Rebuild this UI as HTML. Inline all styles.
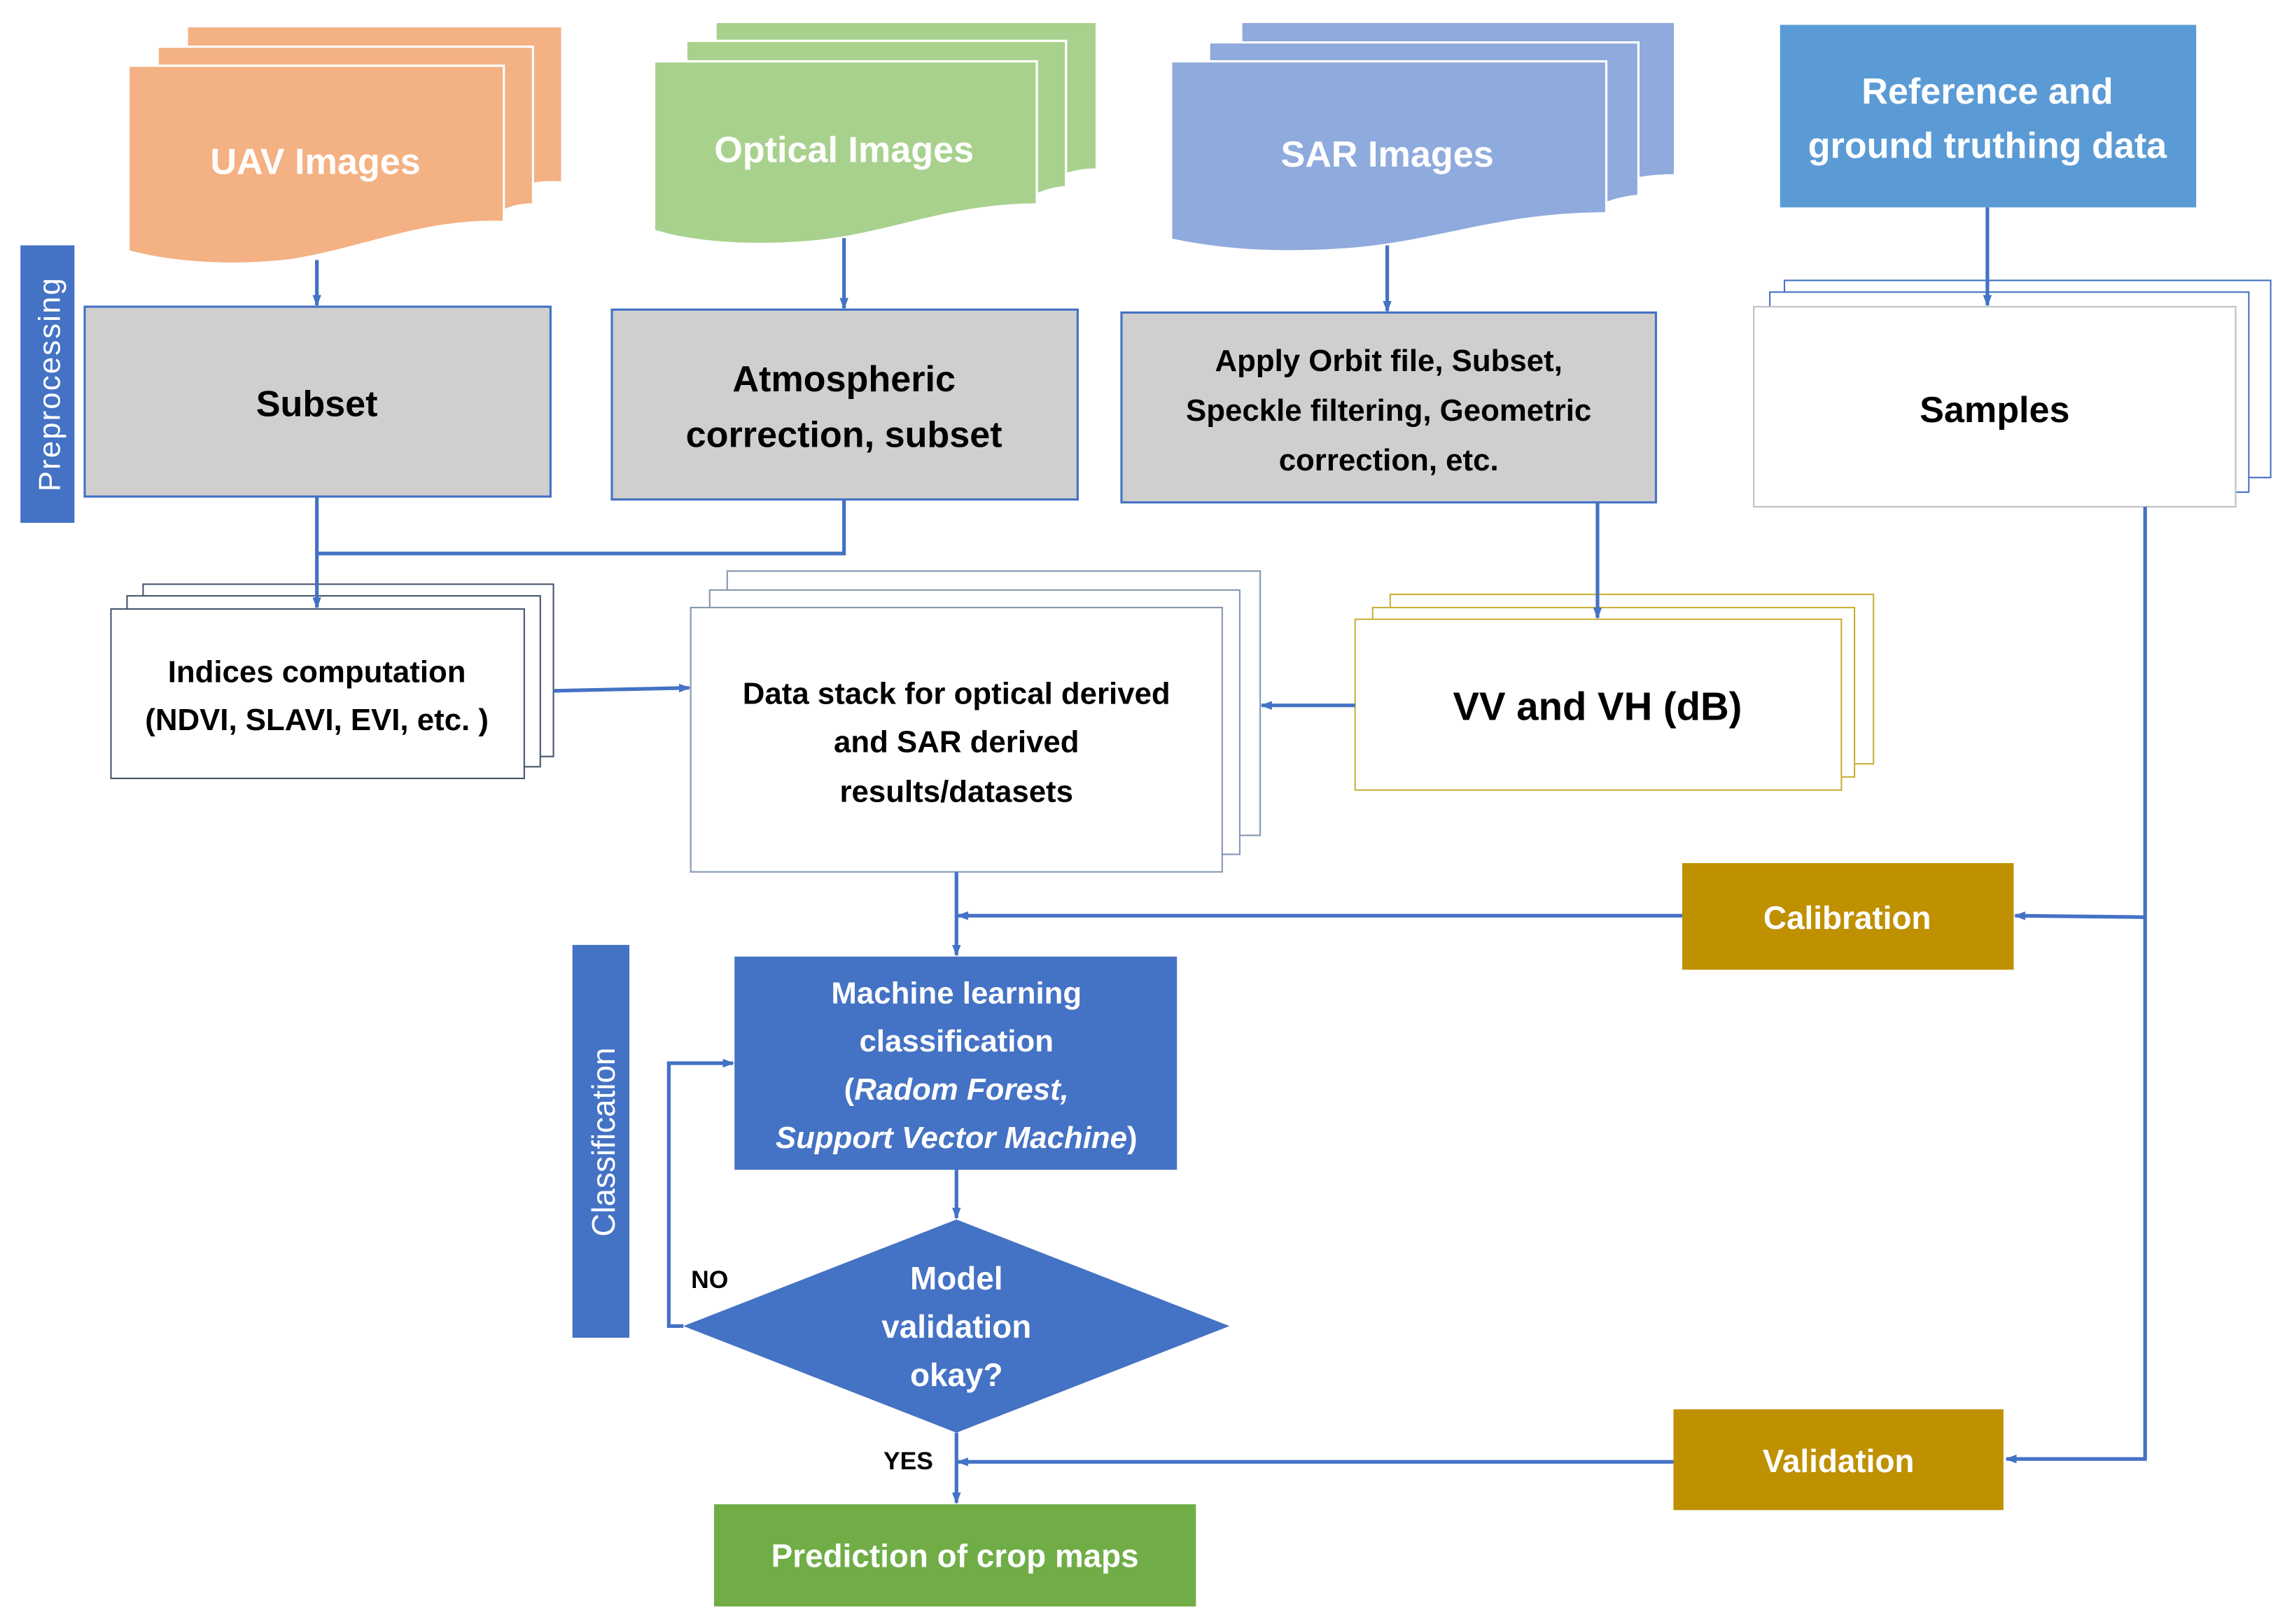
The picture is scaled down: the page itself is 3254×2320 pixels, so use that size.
<!DOCTYPE html>
<html><head><meta charset="utf-8"><style>
html,body{margin:0;padding:0;background:#fff;}
svg{display:block;}
text{font-family:"Liberation Sans",sans-serif;font-weight:bold;}
</style></head><body>
<svg width="3254" height="2320" viewBox="0 0 1560 1112" preserveAspectRatio="none" xmlns="http://www.w3.org/2000/svg">
<defs>
<marker id="ar" markerWidth="8" markerHeight="8" refX="7" refY="4" orient="auto" markerUnits="userSpaceOnUse"><path d="M0,1 L8,4 L0,7 Z" fill="#4472C4"/></marker>
</defs>
<rect width="1560" height="1112" fill="#fff"/>

<g fill="#F4B183" stroke="#fff" stroke-width="1.5">
<path d="M128,18 H385 V125 C370,124 365,126 365,126 V32 H128 Z"/>
<path d="M108,32 H365 V140 C355,140 350,142 345,144 V45 H108 Z"/>
<path d="M88,45 H345 V152 C290,150 250,170 200,178 C150,184 110,178 88,172 Z"/>
</g>
<text x="216" y="119" fill="#fff" font-size="25" text-anchor="middle">UAV Images</text>

<g fill="#A9D18E" stroke="#fff" stroke-width="1.5">
<path d="M490,15 H751 V116 C740,116 735,118 730,119 V28 H490 Z"/>
<path d="M470,28 H730 V128 C720,129 715,131 710,133 V42 H470 Z"/>
<path d="M448,42 H710 V140 C650,140 610,160 560,165 C510,170 470,165 448,158 Z"/>
</g>
<text x="578" y="111" fill="#fff" font-size="25" text-anchor="middle">Optical Images</text>

<g fill="#8FAADC" stroke="#fff" stroke-width="1.5">
<path d="M850,15 H1147 V120 C1135,120 1128,121 1122,122 V29 H850 Z"/>
<path d="M828,29 H1122 V134 C1112,135 1105,137 1100,139 V42 H828 Z"/>
<path d="M802,42 H1100 V146 C1030,146 990,164 930,170 C870,175 830,170 802,164 Z"/>
</g>
<text x="950" y="114" fill="#fff" font-size="25" text-anchor="middle">SAR Images</text>

<rect x="1219" y="17" width="285" height="125" fill="#5B9BD5"/>
<text x="1361" y="71" fill="#fff" font-size="25" text-anchor="middle">Reference and</text>
<text x="1361" y="108" fill="#fff" font-size="25" text-anchor="middle">ground truthing data</text>

<rect x="14" y="168" width="37" height="190" fill="#4472C4"/>
<text transform="translate(41,263) rotate(-90)" fill="#fff" font-size="21" style="font-weight:normal" text-anchor="middle" letter-spacing="1">Preprocessing</text>

<g fill="#D0CECE" stroke="#4472C4" stroke-width="1.5">
<rect x="58" y="210" width="319" height="130"/>
<rect x="419" y="212" width="319" height="130"/>
<rect x="768" y="214" width="366" height="130"/>
</g>
<text x="217" y="285" font-size="25" text-anchor="middle">Subset</text>
<text x="578" y="268" font-size="25" text-anchor="middle">Atmospheric</text>
<text x="578" y="306" font-size="25" text-anchor="middle">correction, subset</text>
<text x="951" y="254" font-size="21" text-anchor="middle">Apply Orbit file, Subset,</text>
<text x="951" y="288" font-size="21" text-anchor="middle">Speckle filtering, Geometric</text>
<text x="951" y="322" font-size="21" text-anchor="middle">correction, etc.</text>

<g fill="#fff" stroke="#4472C4" stroke-width="1">
<rect x="1222" y="192" width="333" height="135"/>
<rect x="1212" y="200" width="328" height="137"/>
<rect x="1201" y="210" width="330" height="137" stroke="#BFBFBF"/>
</g>
<text x="1366" y="289" font-size="25" text-anchor="middle">Samples</text>

<g fill="#fff" stroke="#44546A" stroke-width="1">
<rect x="98" y="400" width="281" height="118"/>
<rect x="87" y="408" width="283" height="117"/>
<rect x="76" y="417" width="283" height="116"/>
</g>
<text x="217" y="467" font-size="21" text-anchor="middle">Indices computation</text>
<text x="217" y="500" font-size="21" text-anchor="middle">(NDVI, SLAVI, EVI, etc. )</text>

<g fill="#fff" stroke="#8497B0" stroke-width="1">
<rect x="498" y="391" width="365" height="181"/>
<rect x="486" y="404" width="363" height="181"/>
<rect x="473" y="416" width="364" height="181"/>
</g>
<text x="655" y="482" font-size="21" text-anchor="middle">Data stack for optical derived</text>
<text x="655" y="515" font-size="21" text-anchor="middle">and SAR derived</text>
<text x="655" y="549" font-size="21" text-anchor="middle">results/datasets</text>

<g fill="#fff" stroke="#C9B037" stroke-width="1">
<rect x="952" y="407" width="331" height="116"/>
<rect x="940" y="416" width="330" height="116"/>
<rect x="928" y="424" width="333" height="117"/>
</g>
<text x="1094" y="493" font-size="27" text-anchor="middle">VV and VH (dB)</text>

<rect x="1152" y="591" width="227" height="73" fill="#BF9000"/>
<text x="1265" y="636" fill="#fff" font-size="22" text-anchor="middle">Calibration</text>
<rect x="1146" y="965" width="226" height="69" fill="#BF9000"/>
<text x="1259" y="1008" fill="#fff" font-size="22" text-anchor="middle">Validation</text>

<rect x="392" y="647" width="39" height="269" fill="#4472C4"/>
<text transform="translate(421,782) rotate(-90)" fill="#fff" font-size="22" style="font-weight:normal" text-anchor="middle">Classification</text>

<rect x="503" y="655" width="303" height="146" fill="#4472C4"/>
<text x="655" y="687" fill="#fff" font-size="21" text-anchor="middle">Machine learning</text>
<text x="655" y="720" fill="#fff" font-size="21" text-anchor="middle">classification</text>
<text x="655" y="753" fill="#fff" font-size="21" text-anchor="middle">(<tspan font-style="italic">Radom Forest,</tspan></text>
<text x="655" y="786" fill="#fff" font-size="21" text-anchor="middle"><tspan font-style="italic">Support Vector Machine</tspan>)</text>

<path d="M655,835 L842,908 L655,981 L468,908 Z" fill="#4472C4"/>
<text x="655" y="883" fill="#fff" font-size="22" text-anchor="middle">Model</text>
<text x="655" y="916" fill="#fff" font-size="22" text-anchor="middle">validation</text>
<text x="655" y="949" fill="#fff" font-size="22" text-anchor="middle">okay?</text>
<text x="486" y="882" font-size="17" text-anchor="middle">NO</text>
<text x="622" y="1006" font-size="17" text-anchor="middle">YES</text>

<rect x="489" y="1030" width="330" height="70" fill="#70AD47"/>
<text x="654" y="1073" fill="#fff" font-size="22" text-anchor="middle">Prediction of crop maps</text>

<g stroke="#4472C4" stroke-width="2.5" fill="none">
<path d="M217,178 V209" marker-end="url(#ar)"/>
<path d="M578,163 V211" marker-end="url(#ar)"/>
<path d="M950,168 V213" marker-end="url(#ar)"/>
<path d="M1361,142 V209" marker-end="url(#ar)"/>
<path d="M578,342 V379 H217"/>
<path d="M217,340 V416" marker-end="url(#ar)"/>
<path d="M379,473 L472,471" marker-end="url(#ar)"/>
<path d="M1094,344 V423" marker-end="url(#ar)"/>
<path d="M928,483 H864" marker-end="url(#ar)"/>
<path d="M655,597 V654" marker-end="url(#ar)"/>
<path d="M1152,627 H656" marker-end="url(#ar)"/>
<path d="M1469,347 V999 H1374" marker-end="url(#ar)"/>
<path d="M1469,628 L1380,627" marker-end="url(#ar)"/>
<path d="M655,801 V834" marker-end="url(#ar)"/>
<path d="M468,908 H458 V728 H502" marker-end="url(#ar)"/>
<path d="M655,981 V1029" marker-end="url(#ar)"/>
<path d="M1146,1001 H656" marker-end="url(#ar)"/>
</g>
</svg>
</body></html>
